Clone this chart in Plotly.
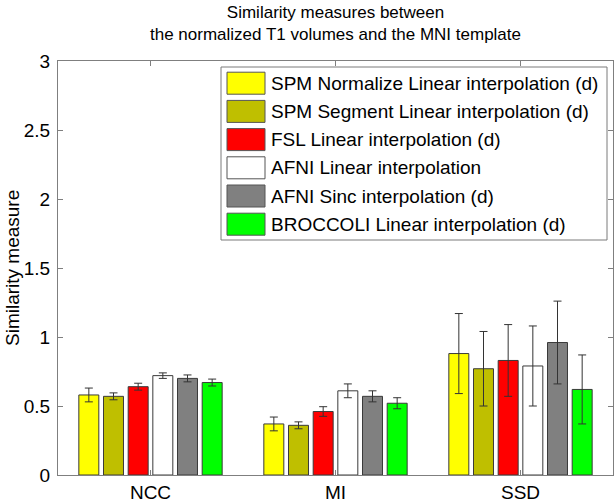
import plotly.graph_objects as go

categories = ["NCC", "MI", "SSD"]
series_names = [
    "SPM Normalize Linear interpolation (d)",
    "SPM Segment Linear interpolation (d)",
    "FSL Linear interpolation (d)",
    "AFNI Linear interpolation",
    "AFNI Sinc interpolation (d)",
    "BROCCOLI Linear interpolation (d)",
]
series_colors = ["#ffff00", "#bfbf00", "#ff0000", "#ffffff", "#808080", "#00ff00"]

spm_normalize = [0.58, 0.37, 0.88]
spm_segment = [0.57, 0.36, 0.77]
fsl_linear = [0.64, 0.46, 0.83]
afni_linear = [0.72, 0.61, 0.79]
afni_sinc = [0.70, 0.57, 0.96]
broccoli_linear = [0.67, 0.52, 0.62]

spm_normalize_err = [0.05, 0.05, 0.29]
spm_segment_err = [0.025, 0.025, 0.27]
fsl_linear_err = [0.025, 0.035, 0.26]
afni_linear_err = [0.02, 0.05, 0.29]
afni_sinc_err = [0.025, 0.04, 0.30]
broccoli_linear_err = [0.025, 0.04, 0.25]

series_values = [spm_normalize, spm_segment, fsl_linear, afni_linear, afni_sinc, broccoli_linear]
series_errors = [spm_normalize_err, spm_segment_err, fsl_linear_err, afni_linear_err,
                 afni_sinc_err, broccoli_linear_err]

y_ticks = [0, 0.5, 1, 1.5, 2, 2.5, 3]
y_tick_labels = ["0", "0.5", "1", "1.5", "2", "2.5", "3"]

FONT = "Liberation Sans, Arial, Helvetica, sans-serif"
W, H = 616, 503
ML, MR, MT, MB = 58, 3, 61, 28
PW, PH = W - ML - MR, H - MT - MB

fig = go.Figure()
for name, vals, errs, col in zip(series_names, series_values, series_errors, series_colors):
    fig.add_trace(go.Bar(
        x=categories, y=vals, name=name,
        marker=dict(color=col, line=dict(color="#3a3a3a", width=1)),
        error_y=dict(type="data", array=errs, visible=True, color="#333333",
                     thickness=1, width=4),
        showlegend=False,
    ))

def px_x(px):
    return (px - ML) / PW

def px_y(py):
    return (H - MB - py) / PH

# manual legend (large swatches like the original)
shapes = [dict(type="rect", xref="paper", yref="paper",
               x0=px_x(221), x1=px_x(607), y0=px_y(240), y1=px_y(67),
               line=dict(color="#7a7a7a", width=1), fillcolor="white", layer="above")]
annotations = []
for i, (name, col) in enumerate(zip(series_names, series_colors)):
    cy = 83.2 + 28.2 * i
    shapes.append(dict(type="rect", xref="paper", yref="paper",
                       x0=px_x(227), x1=px_x(265), y0=px_y(cy + 11), y1=px_y(cy - 11),
                       line=dict(color="#555555", width=1), fillcolor=col, layer="above"))
    annotations.append(dict(xref="paper", yref="paper", x=px_x(269), y=px_y(cy),
                            xanchor="left", yanchor="middle", text=name, showarrow=False,
                            font=dict(family=FONT, size=19, color="black")))

# y-axis title
annotations.append(dict(xref="paper", yref="paper", x=px_x(12), y=px_y(268),
                        xanchor="center", yanchor="middle", textangle=-90,
                        text="Similarity measure", showarrow=False,
                        font=dict(family=FONT, size=19, color="black")))

fig.update_layout(
    width=W, height=H,
    margin=dict(l=ML, r=MR, t=MT, b=MB, pad=0, autoexpand=False),
    paper_bgcolor="white", plot_bgcolor="white",
    barmode="group", bargap=0.2, bargroupgap=0.19,
    font=dict(family=FONT, size=19, color="black"),
    title=dict(text="Similarity measures between<br>the normalized T1 volumes and the MNI template",
               x=(ML + PW / 2) / W, xanchor="center",
               y=1 - 18 / H, yanchor="middle",
               font=dict(family=FONT, size=17, color="black")),
    shapes=shapes,
    annotations=annotations,
)
fig.update_xaxes(
    range=[-0.5, 2.5], showgrid=False, zeroline=False, automargin=False,
    showline=True, linecolor="#7f7f7f", linewidth=1, mirror="ticks",
    ticks="inside", ticklen=5, tickcolor="#7f7f7f",
    tickfont=dict(size=19, family=FONT), ticklabelstandoff=0,
)
fig.update_yaxes(
    range=[0, 3], tickvals=y_ticks, ticktext=y_tick_labels, showgrid=False, zeroline=False,
    automargin=False,
    showline=True, linecolor="#7f7f7f", linewidth=1, mirror="ticks",
    ticks="inside", ticklen=5, tickcolor="#7f7f7f",
    tickfont=dict(size=19, family=FONT), ticklabelstandoff=3,
)

fig.write_html("out.html", config={"displayModeBar": False},
               post_script="document.body.style.margin='0';document.body.style.overflow='hidden';")
